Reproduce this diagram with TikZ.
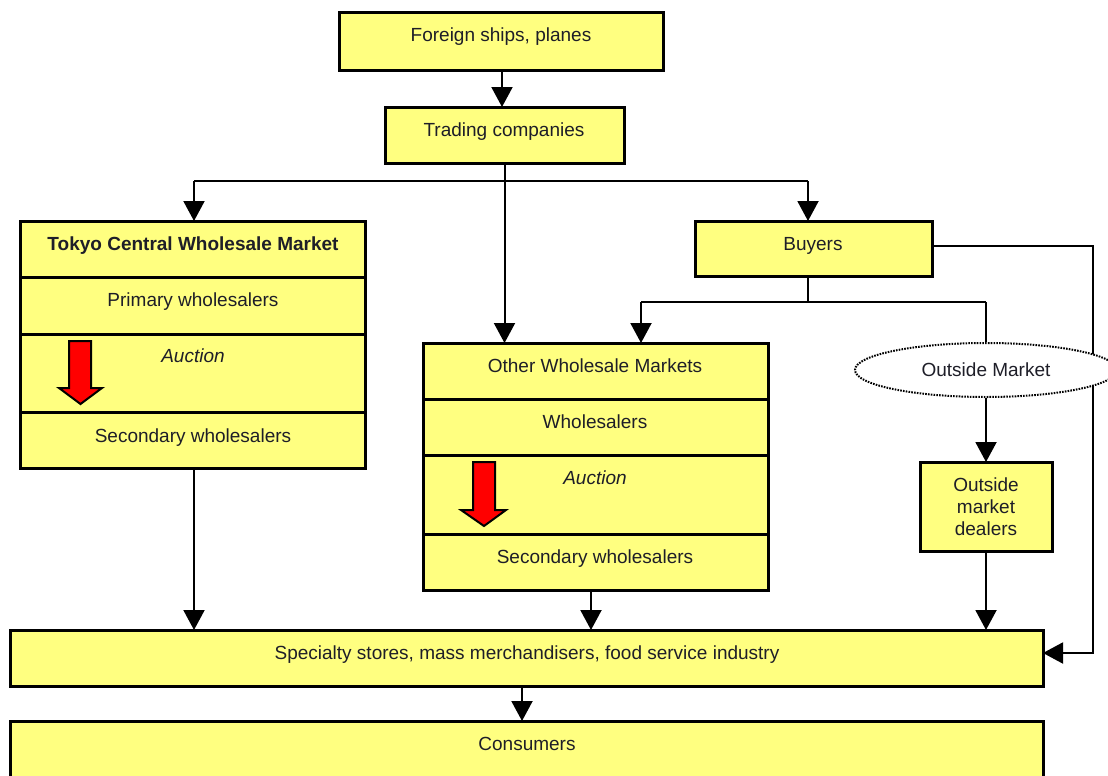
\documentclass[tikz,border=0pt]{standalone}
\usepackage{fontspec}
\setmainfont{Liberation Sans}
\usetikzlibrary{arrows.meta,shapes.geometric}
\definecolor{boxyellow}{RGB}{255,255,128}
\definecolor{txtcol}{RGB}{30,30,40}
\begin{document}
\begin{tikzpicture}[x=1pt,y=-1pt,
  box/.style={draw=black, line width=3pt, fill=boxyellow, inner sep=0pt, outer sep=0pt, anchor=north west},
  txt/.style={anchor=base, inner sep=0pt, text=txtcol, font=\fontsize{19}{22}\selectfont},
  conn/.style={line width=2pt, draw=black},
  arr/.style={conn, -{Triangle[length=20pt,width=21pt]}},
  redarrow/.style={fill=red, draw=black, line width=2pt, line join=miter}]
\useasboundingbox (0,0) rectangle (1108,776);

% boxes
\node[box, minimum width=324pt, minimum height=58pt] (foreign) at (339,13) {};
\node[box, minimum width=239pt, minimum height=56pt] (trading) at (385,107) {};
\node[box, minimum width=237pt, minimum height=55pt] (buyers) at (695,221) {};

\node[box, minimum width=345pt, minimum height=56pt] (tokyoA) at (20,221) {};
\node[box, minimum width=345pt, minimum height=57pt] (tokyoB) at (20,277) {};
\node[box, minimum width=345pt, minimum height=78pt] (tokyoC) at (20,334) {};
\node[box, minimum width=345pt, minimum height=56pt] (tokyoD) at (20,412) {};

\node[box, minimum width=345pt, minimum height=56pt] (otherA) at (423,343) {};
\node[box, minimum width=345pt, minimum height=56pt] (otherB) at (423,399) {};
\node[box, minimum width=345pt, minimum height=79pt] (otherC) at (423,455) {};
\node[box, minimum width=345pt, minimum height=56pt] (otherD) at (423,534) {};

\node[box, minimum width=132pt, minimum height=89pt] (dealers) at (920,462) {};
\node[box, minimum width=1033pt, minimum height=56pt] (specialty) at (10,630) {};
\node[box, minimum width=1033pt, minimum height=70pt] (consumers) at (10,721) {};

% texts
\node[txt] (foreignT) at (501,42) {Foreign ships, planes};
\node[txt] (tradingT) at (504,136) {Trading companies};
\node[txt] (buyersT) at (813,250) {Buyers};
\node[txt, font=\fontsize{19}{22}\selectfont\bfseries] (tokyoT) at (193,250) {Tokyo Central Wholesale Market};
\node[txt] (tokyoPT) at (193,306) {Primary wholesalers};
\node[txt, font=\fontsize{19}{22}\selectfont\itshape] (tokyoAT) at (193,362) {Auction};
\node[txt] (tokyoST) at (193,442) {Secondary wholesalers};
\node[txt] (otherT) at (595,372) {Other Wholesale Markets};
\node[txt] (otherWT) at (595,428) {Wholesalers};
\node[txt, font=\fontsize{19}{22}\selectfont\itshape] (otherAT) at (595,484) {Auction};
\node[txt] (otherST) at (595,563) {Secondary wholesalers};
\node[txt] (dealersT1) at (986,491) {Outside};
\node[txt] (dealersT2) at (986,513) {market};
\node[txt] (dealersT3) at (986,535) {dealers};
\node[txt] (specialtyT) at (527,659) {Specialty stores, mass merchandisers, food service industry};
\node[txt] (consumersT) at (527,750) {Consumers};

% red auction arrows
\draw[redarrow] (69,341) -- (91,341) -- (91,388) -- (102,388) -- (80.5,404) -- (59,388) -- (69,388) -- cycle;
\draw[redarrow] (473,462) -- (495,462) -- (495,510) -- (506,510) -- (484,526) -- (461,510) -- (473,510) -- cycle;

% connectors
\coordinate (brL) at (194,181);
\coordinate (brR) at (808,181);
\coordinate (bj) at (808,302);
\coordinate (bjL) at (641,302);
\coordinate (bjR) at (986,302);
\coordinate (rc) at (1093,0);

\draw[arr] (foreign.south -| 502,0) -- (trading.north -| 502,0);
\draw[conn] (brL) -- (brR);
\draw[arr] (brL) -- (brL |- tokyoA.north);
\draw[arr] (brR) -- (brR |- buyers.north);
\draw[arr] (trading.south) -- (trading.south |- otherA.north);
\draw[conn] (bj |- buyers.south) -- (bj);
\draw[conn] (bjL) -- (bjR);
\draw[arr] (bjL) -- (bjL |- otherA.north);
\draw[arr] (buyers.east |- 0,246) -| (rc |- 0,653) -- (specialty.east |- 0,653);

% outside market ellipse
\node[ellipse, draw=black, fill=white, line width=2pt, dash pattern=on 1.6pt off 1.2pt,
      minimum width=262pt, minimum height=54pt, inner sep=0pt,
      text=txtcol, font=\fontsize{19}{22}\selectfont] (outside) at (986,370) {Outside Market};
\draw[conn] (bjR) -- (outside.north);
\draw[arr] (outside.south) -- (dealers.north);
\draw[arr] (dealers.south) -- (dealers.south |- specialty.north);
\draw[arr] (tokyoD.south -| 194,0) -- (specialty.north -| 194,0);
\draw[arr] (otherD.south -| 591,0) -- (specialty.north -| 591,0);
\draw[arr] (specialty.south -| 522,0) -- (consumers.north -| 522,0);
\end{tikzpicture}
\end{document}
